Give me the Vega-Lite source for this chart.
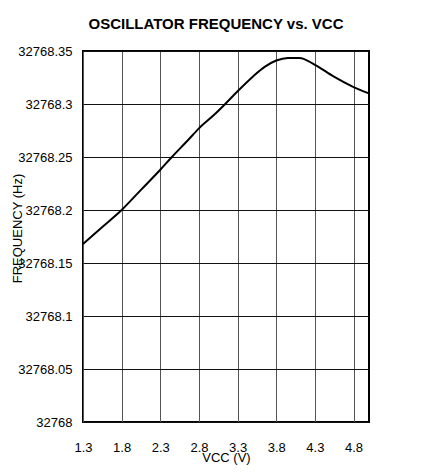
{
  "$schema": "https://vega.github.io/schema/vega-lite/v6.json",
  "width": 286,
  "height": 371,
  "autosize": "none",
  "padding": {"left": 83, "top": 51, "right": 66, "bottom": 53},
  "background": "white",
  "title": {
    "text": "OSCILLATOR FREQUENCY vs. VCC",
    "font": "Liberation Sans",
    "fontSize": 15,
    "fontWeight": "bold",
    "color": "black",
    "offset": 13,
    "dx": -10
  },
  "data": {
    "values": [
      {"v": 1.3, "f": 32768.168},
      {"v": 1.55, "f": 32768.184},
      {"v": 1.8, "f": 32768.2},
      {"v": 2.05, "f": 32768.219},
      {"v": 2.3, "f": 32768.238},
      {"v": 2.45, "f": 32768.25},
      {"v": 2.66, "f": 32768.266},
      {"v": 2.8, "f": 32768.277},
      {"v": 3.0, "f": 32768.29},
      {"v": 3.14, "f": 32768.3},
      {"v": 3.3, "f": 32768.312},
      {"v": 3.5, "f": 32768.326},
      {"v": 3.65, "f": 32768.335},
      {"v": 3.8, "f": 32768.341},
      {"v": 3.95, "f": 32768.3435},
      {"v": 4.1, "f": 32768.3435},
      {"v": 4.3, "f": 32768.337},
      {"v": 4.54, "f": 32768.326},
      {"v": 4.8, "f": 32768.316},
      {"v": 5.0, "f": 32768.31}
    ]
  },
  "mark": {"type": "line", "color": "black", "strokeWidth": 2, "interpolate": "monotone"},
  "encoding": {
    "x": {
      "field": "v",
      "type": "quantitative",
      "scale": {"domain": [1.3, 5.0], "nice": false, "zero": false},
      "axis": {
        "values": [1.3, 1.8, 2.3, 2.8, 3.3, 3.8, 4.3, 4.8],
        "format": ".1f",
        "title": "VCC (V)",
        "titleY": 35,
        "titleBaseline": "middle",
        "labelPadding": 19,
        "gridColor": "#555",
        "labelFlush": false
      }
    },
    "y": {
      "field": "f",
      "type": "quantitative",
      "scale": {"domain": [32768, 32768.35], "nice": false, "zero": false},
      "axis": {
        "values": [32768, 32768.05, 32768.1, 32768.15, 32768.2, 32768.25, 32768.3, 32768.35],
        "format": ".2~f",
        "title": "FREQUENCY (Hz)",
        "titleX": -66,
        "titleY": 177,
        "titleAngle": -90,
        "titleBaseline": "middle",
        "titleAlign": "center",
        "labelPadding": 11,
        "gridColor": "#111",
        "labelFlush": false
      }
    }
  },
  "config": {
    "font": "Liberation Sans",
    "view": {"stroke": "black", "strokeWidth": 2},
    "axis": {
      "domain": false,
      "ticks": false,
      "grid": true,
      "gridWidth": 1,
      "gridOpacity": 1,
      "labelFont": "Liberation Sans",
      "labelFontSize": 13,
      "labelColor": "black",
      "titleFont": "Liberation Sans",
      "titleFontSize": 13,
      "titleFontWeight": "normal",
      "titleColor": "black"
    }
  }
}
